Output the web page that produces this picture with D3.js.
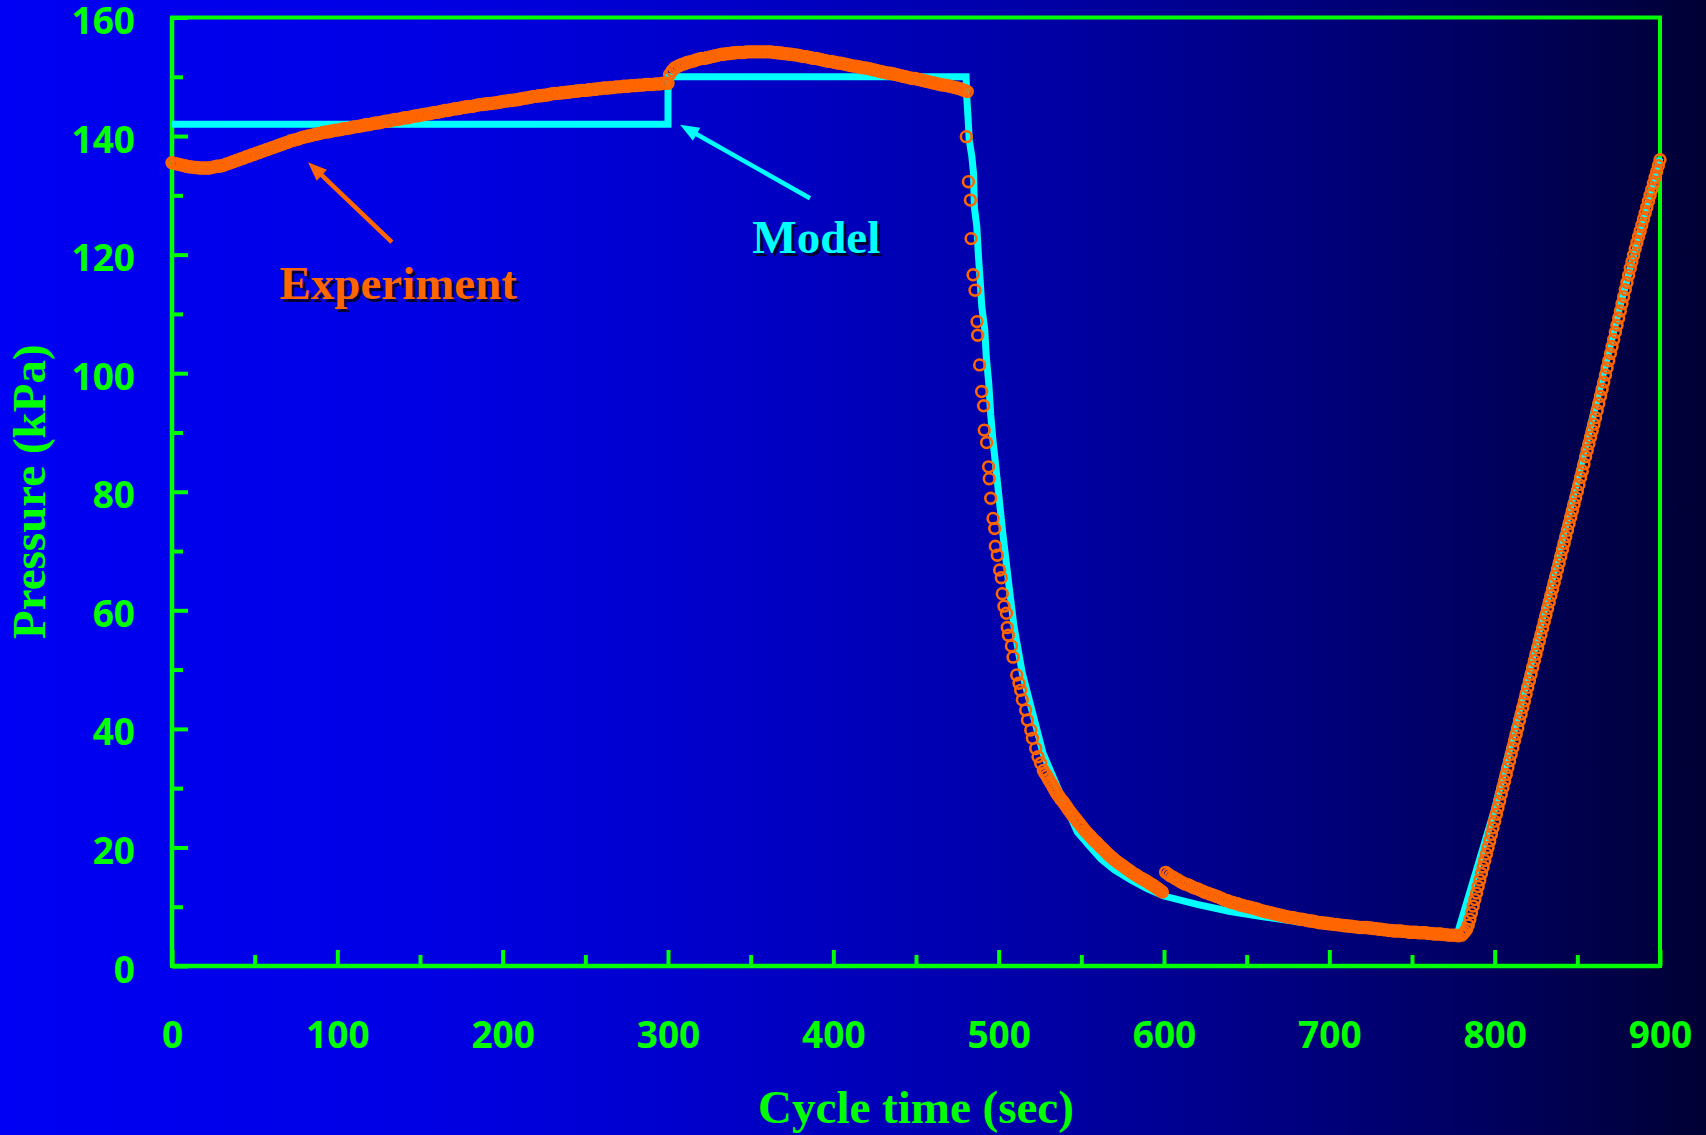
<!DOCTYPE html>
<html><head><meta charset="utf-8">
<script src="https://cdn.jsdelivr.net/npm/d3@7"></script>
<style>html,body{margin:0;padding:0;overflow:hidden;background:#00008a}</style>
</head><body><svg id="chart" width="1706" height="1135"></svg>
<script>
// ---------- data ----------
const xTickValues = [0,100,200,300,400,500,600,700,800,900];
const xMinorTicks = [50,150,250,350,450,550,650,750,850];
const yTickValues = [0,20,40,60,80,100,120,140,160];
const yMinorTicks = [10,30,50,70,90,110,130,150];

// Model (line)
const modelTime = [0,300,300,480.3,480.6,481.5,482.2,483.8,484.8,485.3,486.8,487.8,488.8,489.8,491.6,492.5,494.0,495.2,496.6,498.5,502.3,506.3,509.3,514.3,520.6,526.8,535.5,547.6,555,562,570,580,590,600,620,640,660,680,700,720,740,760,777,800,825,850,875,900];
const modelPressure = [142,142,150,150,147,143,139.3,136.5,133.7,128.0,124.7,119.6,115.7,111.2,107.3,102.8,98.3,93.0,88.5,83.6,73.5,64.0,57.2,49.4,42.6,35.9,30.2,22.6,20.2,18.0,16.2,14.5,13.0,11.8,10.4,9.2,8.3,7.5,6.8,6.2,5.7,5.3,5.0,26.5,54.3,82.0,110.5,136.3];

// Experiment (open circles): regularly sampled stretches (start time, step in s, pressures)
const expHighStart = 0, expHighStep = 1.5;
const expHighPressure = [
135.5,135.4,135.3,135.2,135.1,135.0,134.9,134.8,134.8,134.7,
134.7,134.6,134.6,134.6,134.6,134.6,134.7,134.8,134.9,134.9,
135.0,135.1,135.3,135.4,135.6,135.7,135.9,136.0,136.2,136.3,
136.5,136.6,136.8,136.9,137.1,137.2,137.4,137.5,137.7,137.8,
138.0,138.1,138.3,138.4,138.6,138.7,138.9,139.0,139.2,139.3,
139.4,139.5,139.7,139.8,139.9,140.0,140.1,140.2,140.3,140.4,
140.5,140.6,140.7,140.7,140.8,140.9,141.0,141.0,141.1,141.2,
141.3,141.3,141.4,141.5,141.6,141.6,141.7,141.8,141.9,141.9,
142.0,142.1,142.2,142.2,142.3,142.4,142.5,142.5,142.6,142.7,
142.8,142.8,142.9,143.0,143.1,143.1,143.2,143.3,143.4,143.4,
143.5,143.6,143.7,143.7,143.8,143.9,144.0,144.0,144.1,144.2,
144.3,144.3,144.4,144.5,144.6,144.6,144.7,144.8,144.9,144.9,
145.0,145.0,145.1,145.2,145.3,145.3,145.4,145.4,145.5,145.5,
145.6,145.6,145.7,145.8,145.9,145.9,146.0,146.0,146.1,146.1,
146.2,146.3,146.4,146.4,146.5,146.6,146.7,146.7,146.8,146.8,
146.9,146.9,147.0,147.1,147.2,147.2,147.2,147.3,147.3,147.4,
147.4,147.5,147.5,147.6,147.6,147.7,147.7,147.7,147.8,147.8,
147.9,147.9,148.0,148.0,148.1,148.1,148.1,148.2,148.2,148.3,
148.3,148.3,148.4,148.4,148.4,148.5,148.5,148.5,148.6,148.6,
148.6,148.7,148.7,148.7,148.7,148.8,148.8,148.8,148.9,148.9,
148.9];
const expPeakStart = 301, expPeakStep = 1.5;
const expPeakPressure = [
150.4,151.0,151.5,151.7,151.9,152.1,152.2,152.4,152.5,152.6,
152.7,152.9,153.0,153.1,153.1,153.2,153.3,153.4,153.5,153.6,
153.7,153.8,153.8,153.9,153.9,154.0,154.0,154.1,154.1,154.1,
154.1,154.2,154.2,154.2,154.2,154.2,154.2,154.2,154.2,154.2,
154.2,154.2,154.1,154.1,154.0,154.0,153.9,153.9,153.8,153.8,
153.7,153.7,153.6,153.5,153.4,153.4,153.3,153.2,153.1,153.1,
153.0,152.9,152.8,152.7,152.6,152.6,152.5,152.4,152.3,152.3,
152.2,152.1,152.0,151.9,151.8,151.8,151.7,151.6,151.5,151.5,
151.4,151.3,151.2,151.1,151.0,150.9,150.8,150.7,150.6,150.6,
150.5,150.4,150.3,150.2,150.1,150.0,149.9,149.8,149.7,149.7,
149.6,149.5,149.4,149.3,149.2,149.1,149.0,148.9,148.8,148.7,
148.6,148.6,148.5,148.4,148.3,148.2,148.1,148.0,147.8,147.7,
147.5];
// Blowdown: individual circles read one by one
const expDropTime = [480.4,481.7,482.9,483.3,484.5,485.7,486.9,487.3,488.5,489.7,490.9,491.3,492.7,493.9,494.3,495.2,496.6,497.6,498.0,499.2,500.6,501.6,502.2,503.2,504.7,505.2,505.9,507.7,508.7,510.9,512.3,513.3,514.3,516.3,517.4,519.4,520.4,522.4,523.8,525.4];
const expDropPressure = [139.9,132.3,129.2,122.7,116.6,114.0,108.7,106.4,101.4,96.9,94.5,90.4,88.3,84.2,82.2,78.9,75.5,73.8,70.8,69.3,66.8,65.5,62.8,60.7,59.5,57.1,55.8,54.0,52.1,49.1,47.7,46.5,44.9,43.2,41.5,39.8,38.4,36.7,35.3,34.2];
const expTailStart = 527, expTailStep = 1;
const expTailPressure = [
33.0,32.5,32.1,31.6,31.1,30.7,30.2,29.7,29.2,28.8,
28.4,28.0,27.7,27.3,26.9,26.5,26.1,25.7,25.4,25.0,
24.7,24.3,24.0,23.6,23.3,22.9,22.6,22.3,22.0,21.7,
21.4,21.1,20.9,20.6,20.3,20.0,19.8,19.5,19.2,18.9,
18.7,18.4,18.2,17.9,17.7,17.5,17.3,17.1,16.9,16.7,
16.5,16.3,16.1,15.9,15.7,15.5,15.4,15.2,15.0,14.8,
14.7,14.5,14.4,14.2,14.0,13.8,13.7,13.5,13.3,13.1,
12.9,12.7,12.5];
const expLowStart = 601, expLowStep = 1.5;
const expLowPressure = [
15.8,15.5,15.2,15.0,14.7,14.5,14.2,14.0,13.8,13.7,
13.5,13.3,13.1,13.0,12.8,12.6,12.4,12.3,12.1,12.0,
11.8,11.7,11.5,11.3,11.1,11.0,10.8,10.7,10.6,10.5,
10.3,10.2,10.1,10.0,9.9,9.8,9.7,9.6,9.4,9.3,
9.2,9.1,9.0,8.9,8.8,8.7,8.6,8.5,8.4,8.3,
8.2,8.2,8.1,8.0,7.9,7.9,7.8,7.7,7.6,7.6,
7.5,7.4,7.3,7.3,7.2,7.2,7.1,7.1,7.0,7.0,
6.9,6.9,6.8,6.8,6.7,6.7,6.6,6.6,6.5,6.5,
6.5,6.5,6.4,6.4,6.3,6.3,6.2,6.2,6.1,6.1,
6.0,6.0,5.9,5.9,5.9,5.9,5.8,5.8,5.7,5.7,
5.7,5.7,5.6,5.6,5.6,5.6,5.5,5.5,5.4,5.4,
5.4,5.4,5.3,5.3,5.2,5.2,5.2,5.2,5.1];
const expRiseStart = 780, expRiseStep = 1;
const expRisePressure = [
5.2,5.5,5.8,6.2,6.9,7.9,9.0,10.1,11.2,12.3,
13.4,14.5,15.6,16.7,17.8,18.9,20.0,21.1,22.2,23.3,
24.4,25.6,26.7,27.8,29.0,30.1,31.2,32.3,33.5,34.6,
35.7,36.8,38.0,39.1,40.2,41.4,42.5,43.6,44.7,45.9,
47.0,48.1,49.2,50.4,51.5,52.6,53.7,54.8,55.9,57.0,
58.1,59.2,60.3,61.4,62.5,63.6,64.7,65.8,66.9,68.0,
69.1,70.2,71.3,72.4,73.5,74.6,75.7,76.8,77.9,79.0,
80.1,81.2,82.4,83.5,84.7,85.9,87.0,88.1,89.2,90.3,
91.4,92.5,93.7,94.9,96.1,97.3,98.5,99.7,100.9,102.1,
103.3,104.5,105.7,106.9,108.1,109.3,110.5,111.7,112.9,114.1,
115.3,116.5,117.7,118.8,119.9,121.0,122.0,123.0,124.0,125.0,
126.0,127.0,128.0,129.0,130.0,131.0,132.0,133.0,134.0,135.0,
136.0];

// Annotations (data coordinates)
const annotations = [
  {label:"Experiment", color:"#FF6600", textT:65, textP:112.5, tailT:133, tailP:122.1, tipT:82.3, tipP:135.6},
  {label:"Model",      color:"#00FFFF", textT:351, textP:120.3, tailT:385.9, tailP:129.5, tipT:307.3, tipP:141.9}
];
const xTitle = "Cycle time (sec)";
const yTitle = "Pressure (kPa)";

// ---------- build ----------
const W = 1706, H = 1135;
const M = {left:172, right:1660, top:17.5, bottom:966};
const svg = d3.select("#chart");
const x = d3.scaleLinear().domain([0,900]).range([M.left, M.right]);
const y = d3.scaleLinear().domain([0,160]).range([M.bottom, M.top]);

const defs = svg.append("defs");
const grad = defs.append("linearGradient").attr("id","bg").attr("x1","0").attr("x2","1").attr("y1","0").attr("y2","0");
[[0,"#0000F4"],[0.25,"#0000E4"],[0.45,"#0000C4"],[0.6,"#0000A8"],[0.75,"#000082"],[0.88,"#00005C"],[1,"#000034"]]
  .forEach(([o,c]) => grad.append("stop").attr("offset",o).attr("stop-color",c));
svg.append("rect").attr("width",W).attr("height",H).attr("fill","url(#bg)");

const green = "#00FF00";
svg.append("rect").attr("x",M.left).attr("y",M.top).attr("width",M.right-M.left).attr("height",M.bottom-M.top)
  .attr("fill","none").attr("stroke",green).attr("stroke-width",4);

const tickFont = g => g.style("font-family","'Open Sans', sans-serif").style("font-weight","700").style("font-size","37px");
const xAxis = d3.axisBottom(x).tickValues(xTickValues).tickSize(-16).tickPadding(0).tickFormat(d3.format("d"));
const gx = svg.append("g").attr("transform",`translate(0,${M.bottom})`).call(xAxis);
gx.select(".domain").remove();
gx.selectAll(".tick line").attr("stroke",green).attr("stroke-width",4);
gx.selectAll(".tick text").attr("fill",green).attr("y",82).attr("dy",0).call(tickFont);
const gxm = svg.append("g").attr("transform",`translate(0,${M.bottom})`)
  .call(d3.axisBottom(x).tickValues(xMinorTicks).tickSize(-11).tickFormat(""));
gxm.select(".domain").remove();
gxm.selectAll(".tick line").attr("stroke",green).attr("stroke-width",4);

const yAxis = d3.axisLeft(y).tickValues(yTickValues).tickSize(-16).tickPadding(0).tickFormat(d3.format("d"));
const gy = svg.append("g").attr("transform",`translate(${M.left},0)`).call(yAxis);
gy.select(".domain").remove();
gy.selectAll(".tick line").attr("stroke",green).attr("stroke-width",4);
gy.selectAll(".tick text").attr("fill",green).attr("x",-37).attr("dy",16).call(tickFont);
const gym = svg.append("g").attr("transform",`translate(${M.left},0)`)
  .call(d3.axisLeft(y).tickValues(yMinorTicks).tickSize(-11).tickFormat(""));
gym.select(".domain").remove();
gym.selectAll(".tick line").attr("stroke",green).attr("stroke-width",4);
svg.append("line").attr("x1",M.left).attr("x2",M.left).attr("y1",M.top).attr("y2",M.bottom).attr("stroke",green).attr("stroke-width",4.5);
svg.append("line").attr("x1",M.left).attr("x2",M.right).attr("y1",M.bottom).attr("y2",M.bottom).attr("stroke",green).attr("stroke-width",4.5);

const serif = "'Liberation Serif','Times New Roman',serif";
svg.append("text").attr("x",(M.left+M.right)/2).attr("y",1123).attr("text-anchor","middle")
  .attr("fill",green).style("font-family",serif).style("font-weight","700").style("font-size","47px").text(xTitle);
svg.append("text").attr("transform",`translate(45,${(M.top+M.bottom)/2}) rotate(-90)`).attr("text-anchor","middle")
  .attr("fill",green).style("font-family",serif).style("font-weight","700").style("font-size","47px").text(yTitle);

// model line
const modelData = modelTime.map((t,i)=>({t, p:modelPressure[i]}));
svg.append("path").datum(modelData)
  .attr("d", d3.line().x(d=>x(d.t)).y(d=>y(d.p)))
  .attr("fill","none").attr("stroke","#00FFFF").attr("stroke-width",7)
  .attr("stroke-linejoin","miter").attr("stroke-linecap","butt");

// experiment points
function seg(start, step, arr){ return arr.map((p,i)=>({t:start+i*step, p})); }
const expData = [].concat(
  seg(expHighStart, expHighStep, expHighPressure),
  seg(expPeakStart, expPeakStep, expPeakPressure),
  expDropTime.map((t,i)=>({t, p:expDropPressure[i]})),
  seg(expTailStart, expTailStep, expTailPressure),
  seg(expLowStart, expLowStep, expLowPressure),
  seg(expRiseStart, expRiseStep, expRisePressure)
);
svg.append("g").selectAll("circle").data(expData).join("circle")
  .attr("cx",d=>x(d.t)).attr("cy",d=>y(d.p)).attr("r",5.4)
  .attr("fill","none").attr("stroke","#FF6600").attr("stroke-width",2.6);

// annotations
annotations.forEach(a=>{
  const x1=x(a.tailT), y1=y(a.tailP), x2=x(a.tipT), y2=y(a.tipP);
  const dx=x2-x1, dy=y2-y1, L=Math.hypot(dx,dy), ux=dx/L, uy=dy/L;
  const hl=19, hw=7.5;
  const bx=x2-ux*hl, by=y2-uy*hl;
  svg.append("line").attr("x1",x1).attr("y1",y1).attr("x2",bx+ux*2).attr("y2",by+uy*2)
    .attr("stroke",a.color).attr("stroke-width",4.5);
  svg.append("polygon").attr("points",[[x2,y2],[bx-uy*hw,by+ux*hw],[bx+uy*hw,by-ux*hw]].map(p=>p.join(",")).join(" "))
    .attr("fill",a.color);
  const tg = svg.append("g").style("font-family",serif).style("font-weight","700").style("font-size","47px");
  tg.append("text").attr("x",x(a.textT)+3).attr("y",y(a.textP)+3).attr("fill","#000018").attr("opacity",0.85).text(a.label);
  tg.append("text").attr("x",x(a.textT)).attr("y",y(a.textP)).attr("fill",a.color).text(a.label);
});
</script>
</body></html>
